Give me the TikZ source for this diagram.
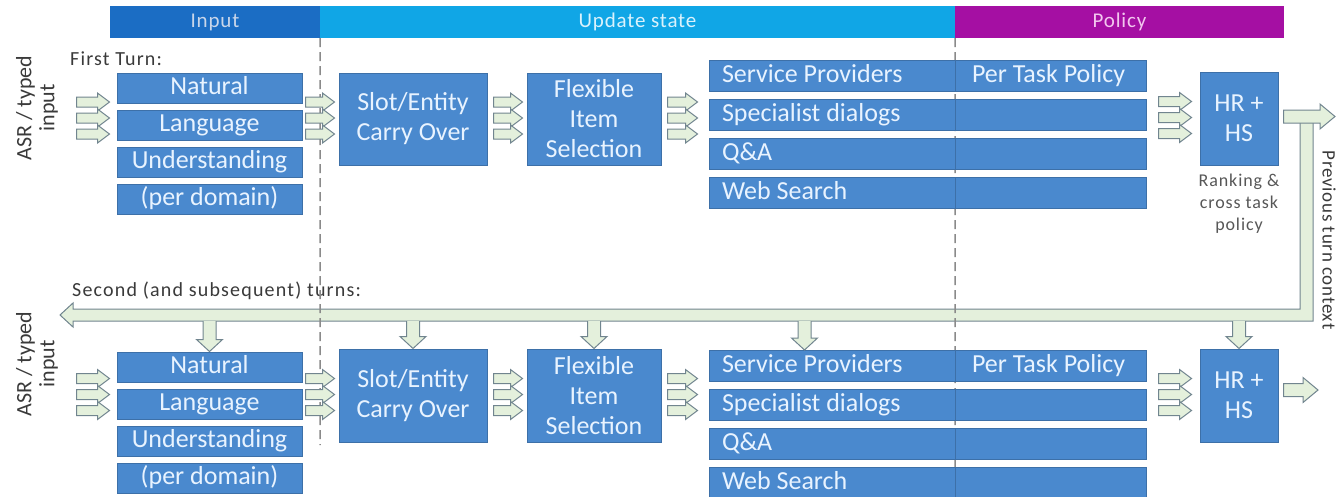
\documentclass[tikz,border=0pt]{standalone}
\usepackage{fontspec}
\setmainfont{Carlito}
\usetikzlibrary{calc}
\definecolor{boxfill}{HTML}{4A89CE}
\definecolor{boxline}{HTML}{3D70A8}
\definecolor{boxtext}{HTML}{E8F3FF}
\definecolor{inhdr}{HTML}{1B6DC4}
\definecolor{inhdrtxt}{HTML}{C9D6EA}
\definecolor{uphdr}{HTML}{10A6E6}
\definecolor{uphdrtxt}{HTML}{DAF2FC}
\definecolor{polhdr}{HTML}{A50FA3}
\definecolor{polhdrtxt}{HTML}{F2C6EE}
\definecolor{arrfill}{HTML}{E4F0DC}
\definecolor{arrline}{HTML}{71858F}
\definecolor{lbltext}{HTML}{3A3A3A}
\definecolor{dashcol}{HTML}{8A8A8A}
\tikzset{
  hdr/.style={inner sep=0, minimum height=32, font=\fontsize{21}{22}\selectfont\addfontfeature{LetterSpace=4}},
  bx/.style={draw=boxline, line width=1, fill=boxfill, text=boxtext, inner sep=0,
    font=\fontsize{26}{30}\selectfont},
  nlu/.style={bx, minimum width=185, minimum height=30, text height=18, text depth=5.5},
  rowbox/.style={bx, minimum height=31, text height=18, text depth=5.5},
  lbl/.style={inner sep=0, text=lbltext, font=\fontsize{20}{22}\selectfont\addfontfeature{LetterSpace=6}},
  asr/.style={inner sep=0, text=lbltext, align=center, font=\fontsize{22}{23}\selectfont},
  arr/.style={draw=arrline, line width=1, fill=arrfill, line join=miter},
  dashln/.style={draw=dashcol, line width=1.5, dash pattern=on 9pt off 5pt},
}
% small horizontal block arrow between two points of equal y
\newcommand\sarr[2]{\draw[arr] let \p1=#1, \p2=#2 in
  (\x1,\y1+5pt) -- (\x2-12pt,\y1+5pt) -- (\x2-12pt,\y1+9pt) -- (\x2,\y1)
  -- (\x2-12pt,\y1-9pt) -- (\x2-12pt,\y1-5pt) -- (\x1,\y1-5pt) -- cycle;}
% big horizontal block arrow
\newcommand\barr[2]{\draw[arr] let \p1=#1, \p2=#2 in
  (\x1,\y1+6.5pt) -- (\x2-15pt,\y1+6.5pt) -- (\x2-15pt,\y1+12.5pt) -- (\x2,\y1)
  -- (\x2-15pt,\y1-12.5pt) -- (\x2-15pt,\y1-6.5pt) -- (\x1,\y1-6.5pt) -- cycle;}
% downward block arrow, open at top
\newcommand\darr[2]{\draw[arr] let \p1=#1, \p2=#2 in
  (\x1-6.5pt,\y1) -- (\x1-6.5pt,\y2+12pt) -- (\x1-13pt,\y2+12pt) -- (\x1,\y2)
  -- (\x1+13pt,\y2+12pt) -- (\x1+6.5pt,\y2+12pt) -- (\x1+6.5pt,\y1);}
\begin{document}
\begin{tikzpicture}[x=1pt,y=-1pt]
\useasboundingbox (0,0) rectangle (1342,496);

% headers
\node[hdr, fill=inhdr, text=inhdrtxt, minimum width=210] (hin) at (215,22) {Input};
\node[hdr, fill=uphdr, text=uphdrtxt, minimum width=635] (hup) at (637.5,22) {Update state};
\node[hdr, fill=polhdr, text=polhdrtxt, minimum width=329] (hpol) at (1119.5,22) {Policy};

% labels
\node[lbl, anchor=west] (ft) at (70,59) {First Turn:};
\node[lbl, anchor=west] (st) at (72,291) {Second (and subsequent) turns:};
\node[asr, rotate=90] (asr1) at (37,108) {ASR / typed\\input};
\node[asr, rotate=90] (asr2) at (37,364) {ASR / typed\\input};

% row 1 boxes
\node[nlu] (nat1) at (209.5,88) {Natural};
\node[nlu] (lang1) at (209.5,125) {Language};
\node[nlu] (und1) at (209.5,162) {Understanding};
\node[nlu] (dom1) at (209.5,199) {(per domain)};
\node[bx, minimum width=148, minimum height=92, align=center] (slot1) at (413,119) {Slot/Entity\\Carry Over};
\node[bx, minimum width=134, minimum height=92, align=center] (flex1) at (594,119) {Flexible\\Item\\Selection};
\node[bx, minimum width=78, minimum height=93, align=center] (hr1) at (1239,118.5) {HR +\\HS};
\node[inner sep=0, align=center, text=lbltext!85, font=\fontsize{18}{22}\selectfont\addfontfeature{LetterSpace=5}] (rk) at (1239,204) {Ranking \&\\cross task\\policy};

% row 2 boxes
\node[nlu] (nat2) at (209.5,367) {Natural};
\node[nlu] (lang2) at (209.5,404) {Language};
\node[nlu] (und2) at (209.5,441) {Understanding};
\node[nlu] (dom2) at (209.5,478) {(per domain)};
\node[bx, minimum width=148, minimum height=93, align=center] (slot2) at (413,395.5) {Slot/Entity\\Carry Over};
\node[bx, minimum width=134, minimum height=93, align=center] (flex2) at (594,395.5) {Flexible\\Item\\Selection};
\node[bx, minimum width=78, minimum height=93, align=center] (hr2) at (1239,395.5) {HR +\\HS};

% feedback bar
\coordinate (fbtop) at (1306.5,121);
\coordinate (fbcorner) at (1306.5,315);
\coordinate (fbtip) at (60,315);
\draw[arr] ($(fbtop)+(-6.5,0)$) -- ($(fbcorner)+(-6.5,-6)$) -- ($(fbtip)+(13,-6)$)
  -- ($(fbtip)+(13,-12)$) -- (fbtip) -- ($(fbtip)+(13,12)$) -- ($(fbtip)+(13,6)$)
  -- ($(fbcorner)+(6.5,6)$) -- ($(fbtop)+(6.5,0)$);
\node[inner sep=0, rotate=-90, text=lbltext, font=\fontsize{19}{20}\selectfont\addfontfeature{LetterSpace=4}] (ptc) at (1329,240) {Previous turn context};

% dashed separators
\coordinate (d1b) at (320,445);
\coordinate (d2b) at (955,496);
\draw[dashln] (hin.south east) -- (d1b);
\draw[dashln] (hup.south east) -- (d2b);

% down arrows
\darr{($(nat2.north|-fbtip)+(0,6)$)}{(nat2.north)}
\darr{($(slot2.north|-fbtip)+(0,6)$)}{(slot2.north)}
\darr{($(flex2.north|-fbtip)+(0,6)$)}{(flex2.north)}
\darr{($(hr2.north|-fbtip)+(0,6)$)}{(hr2.north)}

% row 1 task rows
\node[rowbox, minimum width=246] (sp1) at (832,76) {\makebox[220pt][l]{Service Providers}};
\node[rowbox, minimum width=191] (pt1) at (1050.5,76) {\makebox[157pt][l]{Per Task Policy}};
\node[rowbox, minimum width=246] (sd1) at (832,115) {\makebox[220pt][l]{Specialist dialogs}};
\node[rowbox, minimum width=191] (e11) at (1050.5,115) {};
\node[rowbox, minimum width=246] (qa1) at (832,154) {\makebox[220pt][l]{Q\&A}};
\node[rowbox, minimum width=191] (e12) at (1050.5,154) {};
\node[rowbox, minimum width=246] (ws1) at (832,193) {\makebox[220pt][l]{Web Search}};
\node[rowbox, minimum width=191] (e13) at (1050.5,193) {};

% row 2 task rows
\node[rowbox, minimum width=246] (sp2) at (832,366) {\makebox[220pt][l]{Service Providers}};
\node[rowbox, minimum width=191] (pt2) at (1050.5,366) {\makebox[157pt][l]{Per Task Policy}};
\node[rowbox, minimum width=246] (sd2) at (832,405) {\makebox[220pt][l]{Specialist dialogs}};
\node[rowbox, minimum width=191] (e21) at (1050.5,405) {};
\node[rowbox, minimum width=246] (qa2) at (832,444) {\makebox[220pt][l]{Q\&A}};
\node[rowbox, minimum width=191] (e22) at (1050.5,444) {};
\node[rowbox, minimum width=246] (ws2) at (832,483) {\makebox[220pt][l]{Web Search}};
\node[rowbox, minimum width=191] (e23) at (1050.5,483) {};

\darr{($(sp2.north west|-fbtip)+(96,6)$)}{($(sp2.north west)+(96,0)$)}

% small arrows, row 1
\foreach \d in {-17,-1,15} {
  \sarr{($(nat1.west|-slot1.center)+(-40,\d)$)}{($(nat1.west|-slot1.center)+(-7,\d)$)}
  \sarr{($(nat1.east|-slot1.center)+(3,\d)$)}{($(slot1.west)+(-4,\d)$)}
  \sarr{($(slot1.east)+(6,\d)$)}{($(flex1.west)+(-4,\d)$)}
  \sarr{($(flex1.east)+(6,\d)$)}{($(sp1.west|-flex1.center)+(-11,\d)$)}
  \sarr{($(pt1.east|-hr1.center)+(12,\d)$)}{($(hr1.west)+(-8,\d)$)}
}
% small arrows, row 2
\foreach \d in {-17,-1,15} {
  \sarr{($(nat2.west|-slot2.center)+(-40,\d)$)}{($(nat2.west|-slot2.center)+(-7,\d)$)}
  \sarr{($(nat2.east|-slot2.center)+(3,\d)$)}{($(slot2.west)+(-4,\d)$)}
  \sarr{($(slot2.east)+(6,\d)$)}{($(flex2.west)+(-4,\d)$)}
  \sarr{($(flex2.east)+(6,\d)$)}{($(sp2.west|-flex2.center)+(-11,\d)$)}
  \sarr{($(pt2.east|-hr2.center)+(12,\d)$)}{($(hr2.west)+(-8,\d)$)}
}

% output arrows
\coordinate (out1) at (1335,116.5);
\coordinate (out2) at (1318,390);
\barr{($(hr1.east|-out1)+(5,0)$)}{(out1)}
\barr{($(hr2.east|-out2)+(5,0)$)}{(out2)}
\end{tikzpicture}
\end{document}
